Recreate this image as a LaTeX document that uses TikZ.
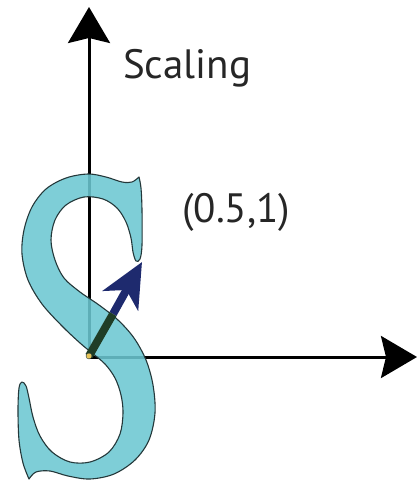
\documentclass[tikz,border=0pt]{standalone}
\usepackage{fontspec}
\setmainfont{PT Sans}
\usetikzlibrary{arrows.meta}
\definecolor{scyan}{HTML}{6CC7D1}
\definecolor{soutline}{HTML}{24383A}
\definecolor{navy}{HTML}{1E2A6E}
\definecolor{dgreen}{HTML}{1F3D26}
\definecolor{dotyellow}{HTML}{E8C65A}
\tikzset{
  axis/.style={line width=3pt, black, -{Stealth[length=36pt, width=42pt, inset=5pt]}},
  sglyph/.style={fill=scyan, fill opacity=0.88, draw=soutline, line width=1.1pt, line join=round},
  vecarrow/.style={navy, line width=8pt, -{Stealth[length=44pt, width=40pt, inset=12pt]}},
  vecshaft/.style={dgreen, line width=8pt},
  lab/.style={inner sep=0pt, font=\fontsize{41}{41}\selectfont, text=black!85}
}
\begin{document}
\begin{tikzpicture}[x=1pt, y=-1pt]
\useasboundingbox (0,0) rectangle (418,485);
% coordinates
\coordinate (O) at (89,356);
\coordinate (Y) at (89,7);
\coordinate (X) at (417,357);
\coordinate (P) at (113,314);
\coordinate (T) at (142,262);
% axes
\draw[axis] (O) -- (Y);
\draw[axis] (O |- X) -- (X);
% the S glyph
\path[sglyph]
  plot[smooth, tension=0.55] coordinates {
    (139,177) (132,182) (122,182) (106,177) (88,174) (66,178) (46,189)
    (32,207) (24,230) (22,254) (28,280) (42,304) (62,326) (80,343)
    (92,353) (105,364) (115,378) (121,395) (123,413) (120,434) (109,452)
    (90,462) (70,462) (52,452) (40,436) (33,417) (29,398) (26,386)
    (22,382) (19,388) (18,410) (19,440) (23,463) (29,479)}
  -- plot[smooth, tension=0.55] coordinates {
    (29,479) (36,472) (50,471) (68,476) (90,479) (114,474) (135,460)
    (149,440) (155,413) (153,385) (146,360) (134,338) (118,320) (99,305)
    (80,292) (64,278) (55,260) (51,240) (55,220) (66,205) (84,197)
    (103,199) (117,208) (126,222) (131,238) (133,252) (136,261) (140,259)
    (142,245) (142,210) (141,188) (139,177)}
  -- cycle;
% vector
\draw[vecarrow] (P) -- (T);
\draw[vecshaft] (O) -- (P);
\node[circle, fill=dotyellow, draw=soutline, line width=0.4pt, minimum size=6pt, inner sep=0pt] (dot) at (O) {};
% labels
\node[lab, anchor=base west] (scal) at (123,78) {Scaling};
\node[lab, anchor=base west] (pt) at (182,222) {(0.5,1)};
\end{tikzpicture}
\end{document}
